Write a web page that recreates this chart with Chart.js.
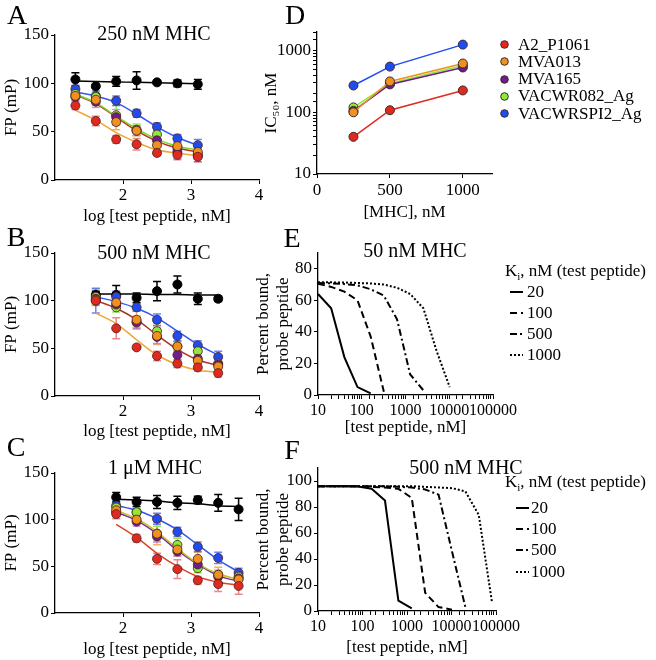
<!DOCTYPE html>
<html>
<head>
<meta charset="utf-8">
<script src="https://cdn.jsdelivr.net/npm/chart.js@4.4.1/dist/chart.umd.min.js"></script>
<style>
  body { margin: 0; background: #fff; }
  #fig { position: relative; width: 656px; height: 660px; background: #fff; font-family: 'Liberation Serif', serif; color: #000; overflow: hidden; }
  #fig canvas { position: absolute; }
  .lbl { position: absolute; font-size: 28px; line-height: 1; transform: translate(-50%, -50%); }
  .ttl { position: absolute; font-size: 20px; line-height: 1; white-space: nowrap; transform: translate(-50%, -50%); }
  .legend { position: absolute; font-size: 17px; white-space: nowrap; }
  .legend .row { display: flex; align-items: center; }
  .legend svg { display: block; flex: none; }
</style>
</head>
<body>
<div id="fig">
  <canvas id="chartA" width="290" height="230" style="left:0;top:0"></canvas>
  <canvas id="chartB" width="290" height="225" style="left:0;top:220px"></canvas>
  <canvas id="chartC" width="290" height="230" style="left:0;top:430px"></canvas>
  <canvas id="chartD" width="406" height="230" style="left:250px;top:0"></canvas>
  <canvas id="chartE" width="406" height="210" style="left:250px;top:230px"></canvas>
  <canvas id="chartF" width="406" height="220" style="left:250px;top:440px"></canvas>

  <div class="lbl" style="left:17px;top:15px">A</div>
  <div class="lbl" style="left:16px;top:237px">B</div>
  <div class="lbl" style="left:16px;top:447px">C</div>
  <div class="lbl" style="left:295px;top:15px">D</div>
  <div class="lbl" style="left:292px;top:238px">E</div>
  <div class="lbl" style="left:292px;top:450px">F</div>

  <div class="ttl" style="left:154px;top:33px">250 nM MHC</div>
  <div class="ttl" style="left:154px;top:252px">500 nM MHC</div>
  <div class="ttl" style="left:155px;top:467px">1 μM MHC</div>
  <div class="ttl" style="left:415px;top:250px">50 nM MHC</div>
  <div class="ttl" style="left:466px;top:467px">500 nM MHC</div>

  <div class="legend" id="legendD" style="left:500px;top:36px"></div>
  <div class="legend" id="legendE" style="left:505px;top:260px"></div>
  <div class="legend" id="legendF" style="left:505px;top:471px"></div>
</div>

<script>
// ---- data ----
// log [test peptide] positions for each FP panel
const logConcA = [1.3, 1.6, 1.9, 2.2, 2.5, 2.8, 3.1];
const logConcB = [1.6, 1.9, 2.2, 2.5, 2.8, 3.1, 3.4];
const logConcC = [1.9, 2.2, 2.5, 2.8, 3.1, 3.4, 3.7];

// panel A, 250 nM MHC (mean, sem)
const ctrlA = [104, 97, 102, 103, 101, 100, 99];
const ctrlErrA = [7, 2, 5, 9, 2, 3.5, 5];
const redA = [77, 61, 42, 37, 28, 26, 24];
const redErrA = [4, 5, 4, 6, 3, 5, 5];
const orangeA = [87, 83, 60, 51, 36, 35, 29];
const orangeErrA = [4, 6, 8, 5, 5, 5, 4];
const purpleA = [86, 81, 65, 51, 41, 29, 25];
const purpleErrA = [4, 6, 8, 5, 6, 7, 6];
const greenA = [89, 86, 67, 52, 47, 33, 27];
const greenErrA = [3, 4, 10, 6, 7, 6, 5];
const blueA = [94, 87, 82, 69, 55, 43, 36];
const blueErrA = [4, 5, 5, 4, 4, 4, 6];
// fitted curves, A
const fitCtrlA = [102.5, 102, 101.5, 101, 100.5, 100, 99.5];
const fitBlueA = [91, 87, 80, 68, 55, 44, 36];
const fitGreenA = [89, 80, 66, 53, 42, 35, 31];
const fitRedA = [88, 79, 65, 51, 40, 33, 29];
const fitOrangeA = [72, 62, 49, 39, 31, 28, 25];

// panel B, 500 nM MHC
const ctrlB = [106, 106, 103, 110, 117, 102, 102];
const ctrlErrB = [4, 10, 5, 10, 9, 6, 3];
const redB = [100, 71, 51, 42, 34, 30, 24];
const redErrB = [5, 11, 2, 5, 4, 4, 4];
const orangeB = [101, 98, 80, 63, 52, 37, 31];
const orangeErrB = [5, 6, 10, 9, 5, 5, 4];
const purpleB = [102, 96, 77, 62, 43, 39, 33];
const purpleErrB = [5, 5, 6, 7, 5, 5, 4];
const greenB = [104, 93, 78, 68, 52, 47, 34];
const greenErrB = [8, 5, 6, 8, 5, 6, 5];
const blueB = [100, 104, 93, 80, 63, 53, 41];
const blueErrB = [13, 6, 4, 6, 5, 5, 6];
const fitCtrlB = [107, 107, 107, 106.5, 106.5, 106, 106];
const fitBlueB = [104, 99, 92, 82, 68, 54, 43];
const fitRedB = [100, 92, 80, 64, 49, 38, 32];
const fitOrangeB = [87, 76, 59, 43, 33, 27, 25];

// panel C, 1 uM MHC
const ctrlC = [124, 119, 119, 118, 121, 118, 111];
const ctrlErrC = [5, 5, 7, 7, 4, 9, 12];
const redC = [106, 80, 58, 47, 35, 31, 29];
const redErrC = [5, 4, 6, 10, 4, 8, 9];
const orangeC = [110, 100, 85, 68, 58, 41, 36];
const orangeErrC = [5, 5, 12, 7, 7, 8, 6];
const purpleC = [108, 98, 82, 66, 52, 39, 37];
const purpleErrC = [5, 5, 6, 5, 6, 5, 5];
const greenC = [113, 108, 85, 73, 48, 41, 39];
const greenErrC = [6, 4, 8, 7, 5, 5, 5];
const blueC = [115, 108, 101, 87, 71, 59, 43];
const blueErrC = [5, 3, 6, 5, 5, 6, 5];
const fitCtrlC = [122, 121, 120, 118, 117, 115, 114];
const fitBlueC = [115, 110, 101, 89, 73, 57, 44];
const fitOliveC = [110, 101, 87, 69, 53, 42, 36];
const fitPurpleC = [108, 99, 85, 67, 52, 40, 34];
const fitRedC = [95, 81, 64, 50, 39, 33, 30];

// panel D, IC50 vs MHC
const mhcConc = [250, 500, 1000];
const peptideNames = ['A2_P1061', 'MVA013', 'MVA165', 'VACWR082_Ag', 'VACWRSPI2_Ag'];
const ic50Red = [40, 108, 226];
const ic50Orange = [100, 316, 617];
const ic50Purple = [105, 283, 532];
const ic50Green = [120, 293, 573];
const ic50Blue = [272, 550, 1250];

// panels E/F, simulated curves; x grid in nM
const simConc = [10, 20, 40, 80, 160, 320, 640, 1280, 2560, 5120, 10240, 20480, 40960, 81920];
const kiLabels = ['20', '100', '500', '1000'];
const e20 = [64, 55, 24, 5, 1];
const e100 = [70.5, 68.5, 65.5, 60, 37, 2];
const e500 = [71, 70.8, 70.3, 69.5, 67, 63, 48, 13, 3];
const e1000 = [71.5, 71.4, 71.3, 71, 70.7, 70, 68, 64, 55, 28, 5];
const f20 = [96, 96, 96, 95.8, 94, 85, 8, 2];
const f100 = [96, 96, 96, 96, 95.5, 95, 94, 87, 14, 3, 1];
const f500 = [96, 96, 96, 96, 96, 96, 95.5, 95, 93.5, 89.5, 46, 3];
const f1000 = [96, 96, 96, 96, 96, 96, 96, 96, 95.5, 95, 94.5, 92, 74, 6];

// ---- styling ----
Chart.defaults.font.family = "'Liberation Serif', 'Times New Roman', serif";
Chart.defaults.font.size = 17;
Chart.defaults.color = '#000';

const RED = '#e02a1f', ORANGE = '#f0901e', PURPLE = '#6e1c8e', GREEN = '#8fe83a', BLUE = '#1f4cf0';
const logMajors = [10, 100, 1000, 10000, 100000];

function pts(xs, ys) {
  return ys.map((y, i) => ({x: xs[i], y: y}));
}

// draws vertical error bars with caps, under the markers
const errorBars = {
  id: 'errorBars',
  beforeDatasetsDraw(chart) {
    const ctx = chart.ctx, xs = chart.scales.x, ys = chart.scales.y;
    chart.data.datasets.forEach(ds => {
      if (!ds.errors) return;
      ctx.save();
      ctx.strokeStyle = ds.errColor;
      ctx.lineWidth = 1.5;
      ds.data.forEach((p, j) => {
        const x = xs.getPixelForValue(p.x);
        const top = ys.getPixelForValue(p.y + ds.errors[j]);
        const bot = ys.getPixelForValue(p.y - ds.errors[j]);
        ctx.beginPath();
        ctx.moveTo(x, top); ctx.lineTo(x, bot);
        ctx.moveTo(x - 4, top); ctx.lineTo(x + 4, top);
        ctx.moveTo(x - 4, bot); ctx.lineTo(x + 4, bot);
        ctx.stroke();
      });
      ctx.restore();
    });
  }
};

function axisStyle(extra) {
  return Object.assign({
    border: {display: true, color: '#000', width: 1.3},
    grid: {display: true, drawOnChartArea: false, drawTicks: true, tickLength: 4, color: '#000'}
  }, extra);
}

function fpChart(id, xs, points, fits, lay) {
  const datasets = [];
  points.forEach((p, k) => datasets.push({
    data: pts(xs, p.y), errors: p.err, errColor: p.errColor,
    showLine: false, pointRadius: 4.5, pointHoverRadius: 4.5,
    pointBackgroundColor: p.color, pointBorderColor: p.border, pointBorderWidth: 1,
    order: k + 1
  }));
  fits.forEach(f => datasets.push({
    data: pts(xs, f.y), borderColor: f.color, borderWidth: 1.5, pointRadius: 0,
    cubicInterpolationMode: 'monotone', fill: false, order: 20
  }));
  new Chart(document.getElementById(id), {
    type: 'line',
    data: {datasets: datasets},
    plugins: [errorBars],
    options: {
      responsive: false, animation: false,
      layout: {padding: {top: lay.top, right: 31, bottom: 0, left: 0}},
      plugins: {legend: {display: false}, tooltip: {enabled: false}},
      scales: {
        x: axisStyle({
          type: 'linear', min: 1, max: 4,
          ticks: {padding: 1, maxRotation: 0},
          afterBuildTicks: s => { s.ticks = [2, 3, 4].map(v => ({value: v})); },
          afterFit: s => { s.height = lay.xh; },
          title: {display: true, text: 'log [test peptide, nM]', padding: {top: 0, bottom: lay.tp}}
        }),
        y: axisStyle({
          min: 0, max: 150,
          ticks: {stepSize: 50, padding: 2},
          afterFit: s => { s.width = 55; },
          title: {display: true, text: 'FP (mP)', padding: {top: 1, bottom: 0}}
        })
      }
    }
  });
}

function series(y, err, color) {
  const errColors = {};
  errColors[RED] = 'rgba(225,70,70,0.65)';
  errColors[ORANGE] = 'rgba(240,150,50,0.75)';
  errColors[PURPLE] = 'rgba(160,80,200,0.6)';
  errColors[GREEN] = 'rgba(130,230,50,0.85)';
  errColors[BLUE] = 'rgba(60,90,240,0.75)';
  errColors['#000'] = '#000';
  return {y: y, err: err, color: color, errColor: errColors[color],
    border: color === '#000' ? '#000' : 'rgba(80,35,35,0.85)'};
}

fpChart('chartA', logConcA, [
  series(redA, redErrA, RED), series(orangeA, orangeErrA, ORANGE),
  series(purpleA, purpleErrA, PURPLE), series(greenA, greenErrA, GREEN),
  series(blueA, blueErrA, BLUE), series(ctrlA, ctrlErrA, '#000')
], [
  {y: fitCtrlA, color: '#000'}, {y: fitBlueA, color: '#3358ee'},
  {y: fitGreenA, color: '#78dc30'}, {y: fitRedA, color: '#c42a2a'},
  {y: fitOrangeA, color: '#f0a535'}
], {top: 35, xh: 50, tp: 3});

fpChart('chartB', logConcB, [
  series(redB, redErrB, RED), series(orangeB, orangeErrB, ORANGE),
  series(purpleB, purpleErrB, PURPLE), series(greenB, greenErrB, GREEN),
  series(blueB, blueErrB, BLUE), series(ctrlB, ctrlErrB, '#000')
], [
  {y: fitCtrlB, color: '#000'}, {y: fitBlueB, color: '#3358ee'},
  {y: fitRedB, color: '#a8352a'}, {y: fitOrangeB, color: '#f0a535'}
], {top: 33, xh: 49, tp: 3});

fpChart('chartC', logConcC, [
  series(redC, redErrC, RED), series(orangeC, orangeErrC, ORANGE),
  series(purpleC, purpleErrC, PURPLE), series(greenC, greenErrC, GREEN),
  series(blueC, blueErrC, BLUE), series(ctrlC, ctrlErrC, '#000')
], [
  {y: fitCtrlC, color: '#000'}, {y: fitBlueC, color: '#3358ee'},
  {y: fitOliveC, color: '#c8c02a'}, {y: fitPurpleC, color: '#7a2aa0'},
  {y: fitRedC, color: '#e0402a'}
], {top: 43, xh: 47, tp: 0});

// ---- D: IC50 vs [MHC] ----
const icSeries = [ic50Red, ic50Orange, ic50Purple, ic50Green, ic50Blue];
const icColors = [RED, ORANGE, PURPLE, GREEN, BLUE];
const chartD = new Chart(document.getElementById('chartD'), {
  type: 'line',
  data: {
    datasets: icSeries.map((vals, i) => ({
      label: peptideNames[i], data: pts(mhcConc, vals),
      borderColor: icColors[i], backgroundColor: icColors[i], borderWidth: 1.5,
      pointRadius: 4.5, pointBackgroundColor: icColors[i],
      pointBorderColor: '#3a2a2a', pointBorderWidth: 1, tension: 0
    }))
  },
  options: {
    responsive: false, animation: false,
    layout: {padding: {top: 32, right: 164, bottom: 0, left: 0}},
    plugins: {legend: {display: false}, tooltip: {enabled: false}},
    scales: {
      x: axisStyle({
        type: 'linear', min: 0, max: 1200,
        ticks: {padding: 2, maxRotation: 0, callback: v => String(v)},
        afterBuildTicks: s => { s.ticks = [0, 500, 1000].map(v => ({value: v})); },
        afterFit: s => { s.height = 56; },
        title: {display: true, text: '[MHC], nM', padding: {top: 0, bottom: 7}}
      }),
      y: axisStyle({
        type: 'logarithmic', min: 10, max: 2000,
        ticks: {autoSkip: false, padding: 2, callback: v => logMajors.includes(v) ? String(v) : ''},
        afterFit: s => { s.width = 67; },
        title: {display: true, text: 'IC₅₀, nM', padding: {top: 11, bottom: 0}}
      })
    }
  }
});

// ---- E/F: simulated competition curves ----
const dashes = [[], [7, 4], [7, 3, 2, 3], [2, 2]];

function simChart(id, curves, lay) {
  return new Chart(document.getElementById(id), {
    type: 'line',
    data: {
      datasets: curves.map((ys, i) => ({
        label: kiLabels[i], data: pts(simConc, ys),
        borderColor: '#000', backgroundColor: '#000', borderWidth: 2,
        borderDash: dashes[i], pointRadius: 0, tension: 0
      }))
    },
    options: {
      responsive: false, animation: false,
      layout: {padding: {top: lay.top, right: lay.right, bottom: 0, left: 0}},
      plugins: {legend: {display: false}, tooltip: {enabled: false}},
      scales: {
        x: axisStyle({
          type: 'logarithmic', min: 10, max: 100000,
          ticks: {autoSkip: false, maxRotation: 0, padding: 2, font: {size: 16},
            callback: v => logMajors.includes(v) ? String(v) : ''},
          afterFit: s => { s.height = lay.xh; },
          title: {display: true, text: '[test peptide, nM]', padding: {top: 0, bottom: 2}}
        }),
        y: axisStyle({
          min: 0, max: lay.ymax,
          ticks: {stepSize: 20, includeBounds: false, padding: 2},
          afterFit: s => { s.width = 68; },
          title: {display: true, text: ['Percent bound,', 'probe peptide'], padding: {top: 3, bottom: 0}}
        })
      }
    }
  });
}

const chartE = simChart('chartE', [e20, e100, e500, e1000], {top: 23, right: 163, xh: 45, ymax: 90});
const chartF = simChart('chartF', [f20, f100, f500, f1000], {top: 28, right: 160, xh: 49, ymax: 110});

// ---- legends built from the chart datasets ----
const SVGNS = 'http://www.w3.org/2000/svg';

function markerSvg(ds) {
  const svg = document.createElementNS(SVGNS, 'svg');
  svg.setAttribute('width', 9); svg.setAttribute('height', 9);
  const c = document.createElementNS(SVGNS, 'circle');
  c.setAttribute('cx', 4.5); c.setAttribute('cy', 4.5); c.setAttribute('r', 3.8);
  c.setAttribute('fill', ds.pointBackgroundColor);
  c.setAttribute('stroke', ds.pointBorderColor); c.setAttribute('stroke-width', 1);
  svg.appendChild(c);
  return svg;
}

function lineSvg(ds) {
  const svg = document.createElementNS(SVGNS, 'svg');
  svg.setAttribute('width', 13); svg.setAttribute('height', 4);
  const l = document.createElementNS(SVGNS, 'line');
  l.setAttribute('x1', 0); l.setAttribute('y1', 2); l.setAttribute('x2', 13); l.setAttribute('y2', 2);
  l.setAttribute('stroke', ds.borderColor); l.setAttribute('stroke-width', ds.borderWidth);
  if (ds.borderDash.length) l.setAttribute('stroke-dasharray', ds.borderDash.join(' '));
  svg.appendChild(l);
  return svg;
}

function buildLegend(chart, boxId, opt) {
  const box = document.getElementById(boxId);
  if (opt.title) {
    const t = document.createElement('div');
    t.style.height = '21px'; t.style.lineHeight = '21px'; t.style.marginBottom = opt.titleGap + 'px';
    t.innerHTML = opt.title;
    box.appendChild(t);
  }
  chart.data.datasets.forEach(ds => {
    const row = document.createElement('div');
    row.className = 'row';
    row.style.height = opt.rowH + 'px';
    row.style.paddingLeft = opt.indent + 'px';
    const sw = opt.kind === 'marker' ? markerSvg(ds) : lineSvg(ds);
    sw.style.marginRight = opt.textGap + 'px';
    row.appendChild(sw);
    const span = document.createElement('span');
    span.textContent = ds.label;
    row.appendChild(span);
    box.appendChild(row);
  });
}

buildLegend(chartD, 'legendD', {kind: 'marker', rowH: 17.25, indent: 0, textGap: 9});
buildLegend(chartE, 'legendE', {kind: 'line', rowH: 21, indent: 5, textGap: 4,
  title: 'K<sub style="font-size:11px">i</sub>, nM (test peptide)', titleGap: 0});
buildLegend(chartF, 'legendF', {kind: 'line', rowH: 21.3, indent: 11, textGap: 2,
  title: 'K<sub style="font-size:11px">i</sub>, nM (test peptide)', titleGap: 5});
</script>
</body>
</html>
